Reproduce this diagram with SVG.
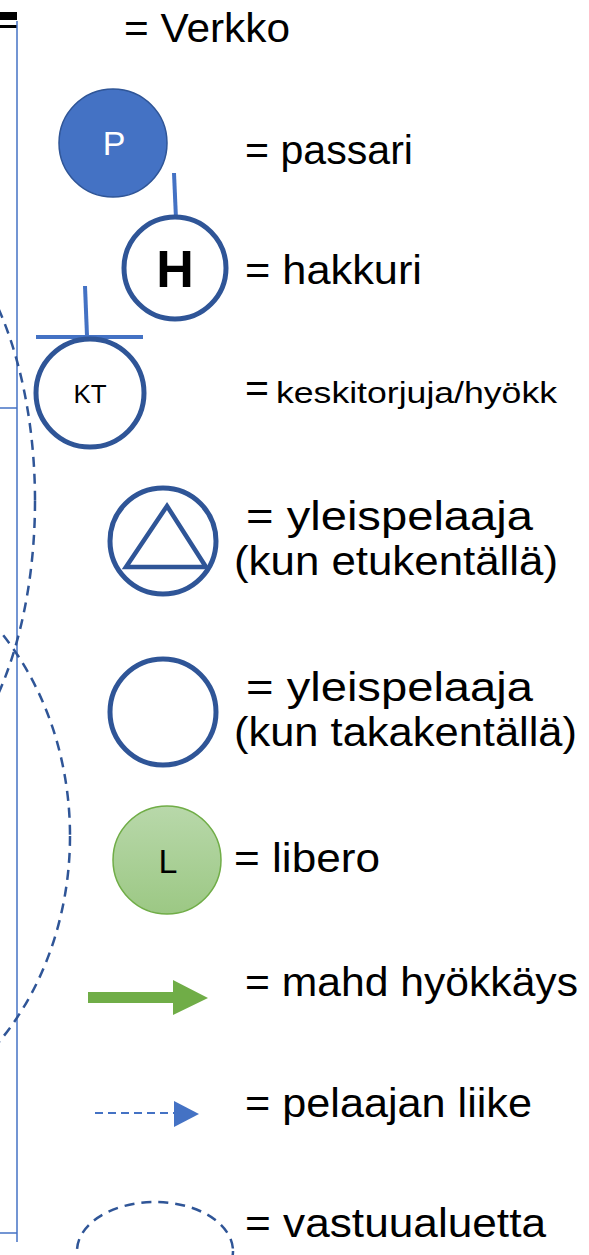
<svg xmlns="http://www.w3.org/2000/svg" width="589" height="1255" viewBox="0 0 589 1255">
<style>
  .t { font-family: "Liberation Sans", Arial, sans-serif; font-size: 41px; fill: #000; }
  .ring { fill: #fff; stroke: #2F5597; stroke-width: 5; }
  .net { stroke: #4472C4; stroke-width: 1.5; fill: none; }
  .zone { fill: none; stroke: #2F5597; stroke-width: 2.5; stroke-dasharray: 10 7; }
  .tick { stroke: #4472C4; stroke-width: 4; fill: none; }
  .lbl { font-family: "Liberation Sans", Arial, sans-serif; text-anchor: middle; }
</style>
<defs>
  <linearGradient id="lg" x1="0" y1="0" x2="0" y2="1">
    <stop offset="0" stop-color="#B8D8AA"/>
    <stop offset="1" stop-color="#9CC884"/>
  </linearGradient>
</defs>
<g id="court">
  <rect x="0" y="12" width="17" height="8" fill="#000"/>
  <rect x="0" y="25" width="17" height="3" fill="#000"/>
  <line class="net" x1="17" y1="21" x2="17" y2="1242"/>
  <line class="net" x1="0" y1="408" x2="17" y2="408"/>
  <line class="net" x1="0" y1="1233" x2="17" y2="1233"/>
</g>
<g id="zones">
  <ellipse class="zone" cx="-110" cy="501" rx="145" ry="290"/>
  <ellipse class="zone" cx="-172" cy="836" rx="242" ry="291"/>
</g>
<g id="legend-verkko">
  <text class="t" x="124" y="42" textLength="166" lengthAdjust="spacingAndGlyphs">= Verkko</text>
</g>
<g id="node-passari">
  <circle cx="113" cy="143" r="54" fill="#4472C4" stroke="#2F5597" stroke-width="1.5"/>
  <text class="lbl" x="114" y="155" font-size="34" fill="#fff">P</text>
  <text class="t" x="245" y="164" textLength="168" lengthAdjust="spacingAndGlyphs">= passari</text>
</g>
<g id="node-hakkuri">
  <line class="tick" x1="174" y1="173" x2="176" y2="219"/>
  <circle class="ring" cx="175" cy="268" r="51"/>
  <text class="lbl" x="175" y="287" font-size="52" font-weight="bold" fill="#000">H</text>
  <text class="t" x="245" y="284" textLength="177" lengthAdjust="spacingAndGlyphs">= hakkuri</text>
</g>
<g id="node-kt">
  <line class="tick" x1="85" y1="286" x2="87" y2="336"/>
  <line class="tick" x1="36" y1="337" x2="143" y2="337"/>
  <circle class="ring" cx="90" cy="393" r="54"/>
  <text class="lbl" x="90" y="403" font-size="26" fill="#000">KT</text>
  <text class="t" x="245" y="402">=</text>
  <text x="276" y="403" font-family="Liberation Sans, Arial, sans-serif" font-size="29" fill="#000" textLength="281" lengthAdjust="spacingAndGlyphs">keskitorjuja/hyökk</text>
</g>
<g id="node-yleis-etu">
  <circle class="ring" cx="163" cy="541" r="53"/>
  <polygon points="167,506 206,567 126,567" fill="none" stroke="#2F5597" stroke-width="4.5" stroke-linejoin="miter"/>
  <text class="t" x="246" y="530" textLength="287" lengthAdjust="spacingAndGlyphs">= yleispelaaja</text>
  <text class="t" x="234" y="575" textLength="324" lengthAdjust="spacingAndGlyphs">(kun etukentällä)</text>
</g>
<g id="node-yleis-taka">
  <circle class="ring" cx="163" cy="712" r="53"/>
  <text class="t" x="246" y="701" textLength="287" lengthAdjust="spacingAndGlyphs">= yleispelaaja</text>
  <text class="t" x="234" y="746" textLength="343" lengthAdjust="spacingAndGlyphs">(kun takakentällä)</text>
</g>
<g id="node-libero">
  <circle cx="167" cy="860" r="54" fill="url(#lg)" stroke="#70AD47" stroke-width="1.5"/>
  <text class="lbl" x="168" y="873" font-size="34" fill="#000">L</text>
  <text class="t" x="234" y="872" textLength="146" lengthAdjust="spacingAndGlyphs">= libero</text>
</g>
<g id="connectors">
  <polygon points="88,992 173,992 173,980 208,998 173,1015 173,1003 88,1003" fill="#70AD47"/>
  <line x1="95" y1="1113" x2="174" y2="1113" stroke="#4472C4" stroke-width="2" stroke-dasharray="8 5"/>
  <polygon points="174,1101 199,1114 174,1127" fill="#4472C4"/>
</g>
<g id="legend-lines">
  <text class="t" x="245" y="996" textLength="333" lengthAdjust="spacingAndGlyphs">= mahd hyökkäys</text>
  <text class="t" x="245" y="1117" textLength="287" lengthAdjust="spacingAndGlyphs">= pelaajan liike</text>
  <ellipse class="zone" cx="155" cy="1251" rx="78" ry="49"/>
  <text class="t" x="245" y="1237" textLength="301" lengthAdjust="spacingAndGlyphs">= vastuualuetta</text>
</g>
</svg>
